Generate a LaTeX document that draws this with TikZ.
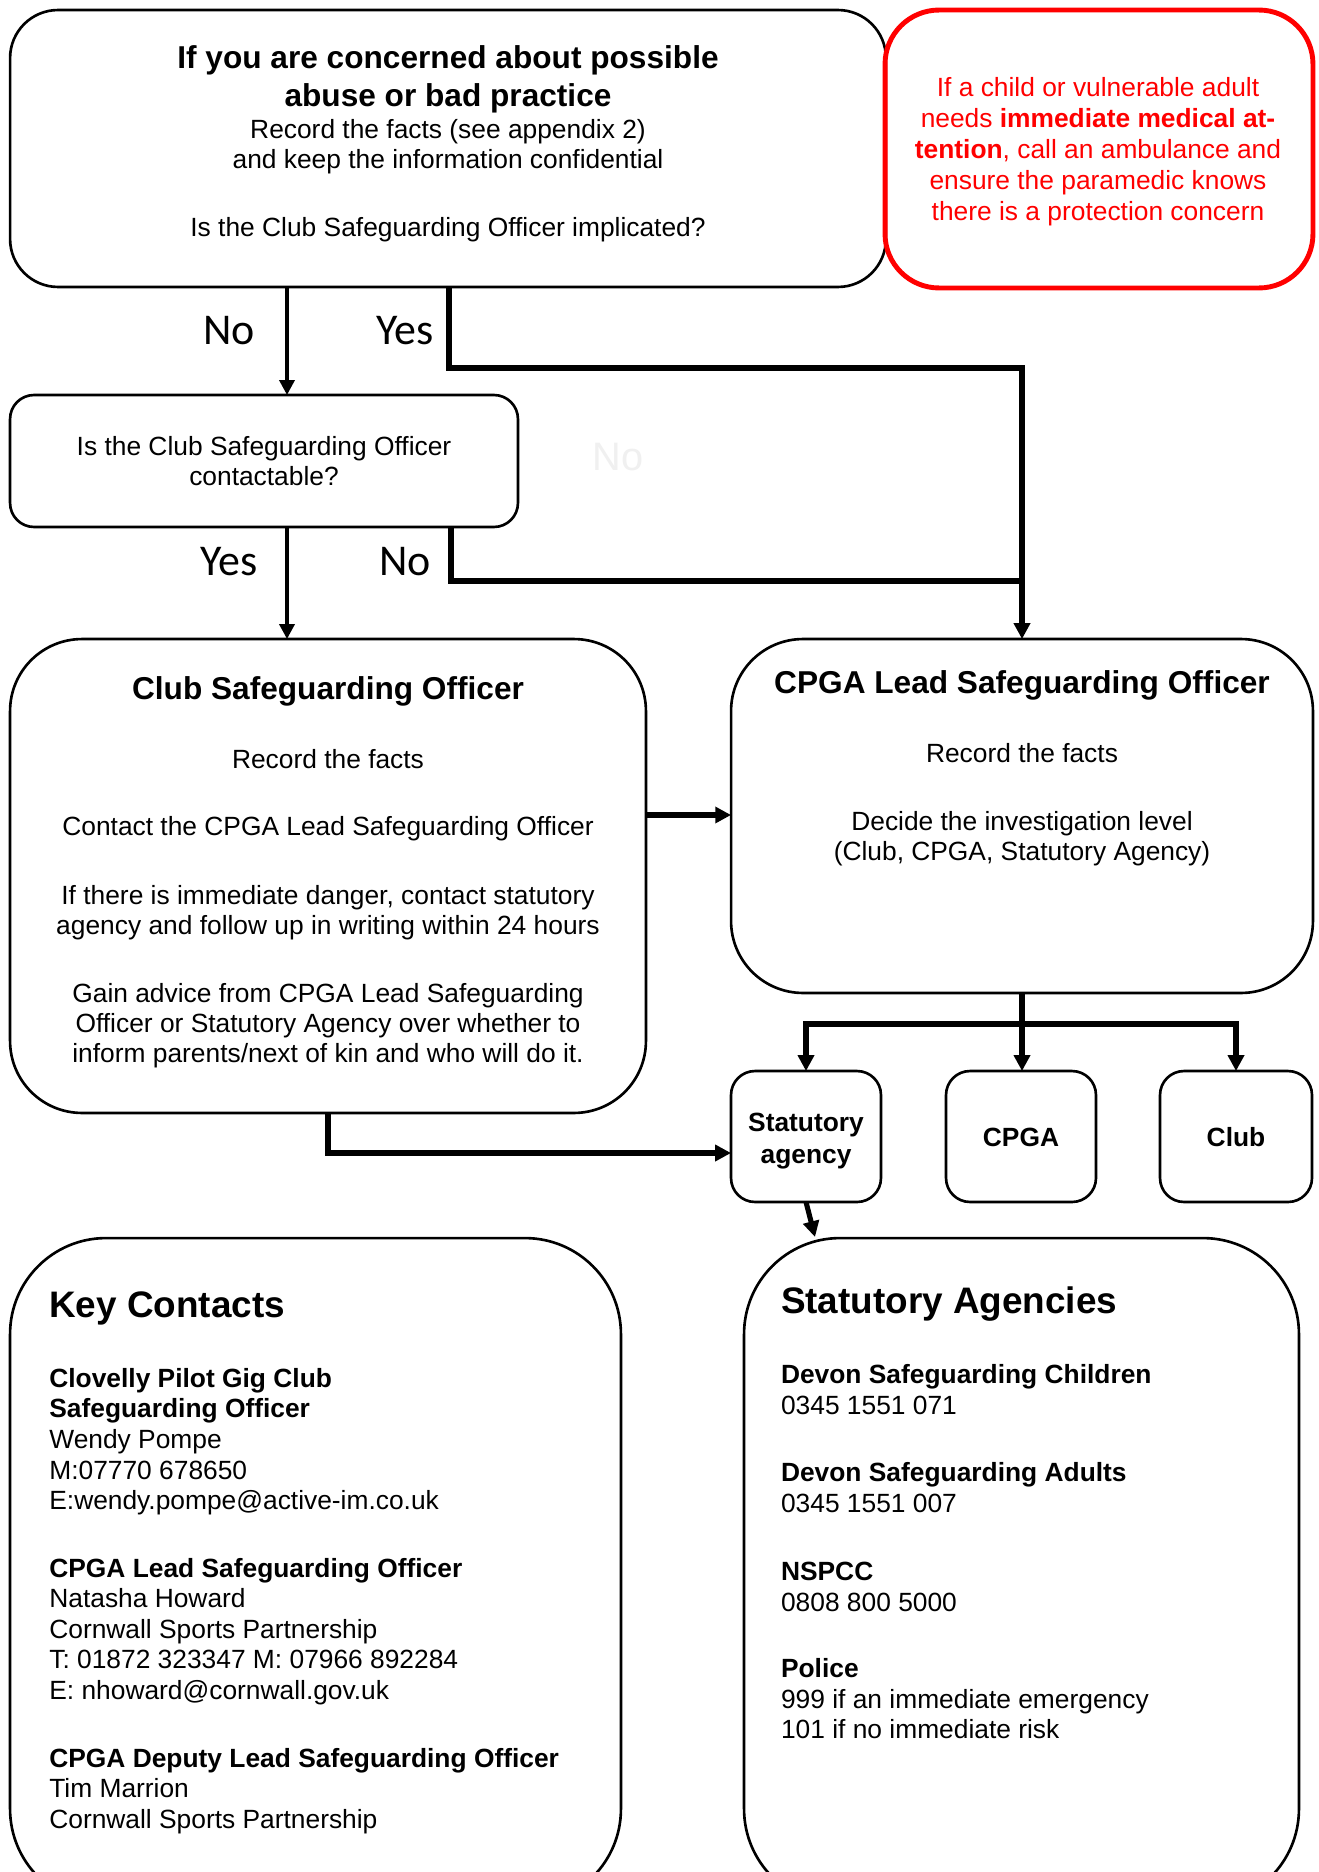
\documentclass[tikz,border=0pt]{standalone}
\usepackage{fontspec}
\setmainfont{Liberation Sans}
\newfontfamily\carl{Carlito}
\usetikzlibrary{arrows.meta,calc}
\begin{document}
\begin{tikzpicture}[x=0.02cm,y=-0.02cm,
  box/.style={draw,line width=1.5pt,rectangle,inner sep=0pt,outer sep=0pt},
  redbox/.style={draw=red,line width=2.8pt,rectangle,inner sep=0pt,outer sep=0pt},
  arr/.style={line width=2pt,-{Triangle[width=8.5pt,length=8.5pt]}},
  arrk/.style={line width=2.9pt,-{Triangle[width=9pt,length=9pt]}},
  lnk/.style={line width=2.9pt},
  txt/.style={inner sep=0pt,align=center,anchor=base,font=\fontsize{15}{17.4}\selectfont},
  ttl/.style={inner sep=0pt,align=center,anchor=base,font=\fontsize{18}{21.5}\selectfont\bfseries},
  lft/.style={inner sep=0pt,align=left,anchor=base west,font=\fontsize{15}{17.4}\selectfont},
  big/.style={inner sep=0pt,anchor=base west,font=\fontsize{21}{25}\selectfont\bfseries},
  yn/.style={inner sep=0pt,anchor=center,font=\carl\fontsize{25}{30}\selectfont}
]
\useasboundingbox (0,0) rectangle (1318,1872);
\clip (0,0) rectangle (1318,1872);
\fill[white] (0,0) rectangle (1318,1872);

% boxes
\node[box,rounded corners=0.96cm,minimum width=17.52cm,minimum height=5.54cm] (top) at (448,148.5) {};
\node[redbox,rounded corners=1.08cm,minimum width=8.56cm,minimum height=5.56cm] (redb) at (1099,149) {};
\node[box,rounded corners=0.48cm,minimum width=10.16cm,minimum height=2.64cm] (box2) at (264,461) {};
\node[box,rounded corners=1.44cm,minimum width=12.72cm,minimum height=9.48cm] (cso) at (328,876) {};
\node[box,rounded corners=1.44cm,minimum width=11.64cm,minimum height=7.08cm] (lead) at (1022,816) {};
\node[box,rounded corners=0.48cm,minimum width=3.0cm,minimum height=2.62cm] (stat) at (806,1136.5) {};
\node[box,rounded corners=0.48cm,minimum width=3.0cm,minimum height=2.62cm] (cpga) at (1021,1136.5) {};
\node[box,rounded corners=0.48cm,minimum width=3.04cm,minimum height=2.62cm] (club) at (1236,1136.5) {};
\node[box,rounded corners=1.92cm,minimum width=12.22cm,minimum height=13.34cm] (key) at (315.5,1571.5) {};
\node[box,rounded corners=1.92cm,minimum width=11.1cm,minimum height=13.34cm] (sa) at (1021.5,1571.5) {};

% helper coordinates
\coordinate (xNo) at (287,0);
\coordinate (xYes) at (449,0);
\coordinate (xNo2) at (451,0);
\coordinate (yJ1) at (0,368);
\coordinate (yJ2) at (0,581);
\coordinate (yM) at (0,815);
\coordinate (yS) at (0,1153);
\coordinate (yF) at (0,1024);
\coordinate (saIn) at (815,1237);

% connectors
\draw[arr] (xNo |- top.south) -- (xNo |- box2.north);
\draw[arrk] (xYes |- top.south) |- (yJ1 -| lead.north) -- (lead.north);
\draw[arr] (xNo |- box2.south) -- (xNo |- cso.north);
\draw[lnk] (xNo2 |- box2.south) |- (yJ2 -| lead.north);
\draw[arrk] (cso.east |- yM) -- (lead.west |- yM);
\draw[arrk] (cso.south) |- (yS -| stat.west);
\draw[arrk] (lead.south) -- (lead.south |- cpga.north);
\draw[arrk] (lead.south) |- (yF -| stat.north) -- (stat.north);
\draw[arrk] (lead.south) |- (yF -| club.north) -- (club.north);
\draw[arrk] (stat.south) -- (saIn);

% labels
\node[yn] (lNo1) at (229,331) {No};
\node[yn] (lYes1) at (405,331) {Yes};
\node[yn] (lYes2) at (229,562) {Yes};
\node[yn] (lNo2) at (405,562) {No};
\node[inner sep=0pt,text=black!6,font=\fontsize{22.6}{26}\selectfont] (faint) at (618,457) {No};

% top box text (base = baseline of last line)
\node[ttl] (t1) at (448,106.5) {If you are concerned about possible\\abuse or bad practice};
\node[txt,font=\fontsize{15}{17.6}\selectfont] (t2) at (448,169) {Record the facts (see appendix 2)\\and keep the information confidential};
\node[txt] (t3) at (448,236) {Is the Club Safeguarding Officer implicated?};

% red text
\node[txt,text=red,font=\fontsize{15}{17.6}\selectfont] (rt) at (1098,220) {If a child or vulnerable adult\\needs \textbf{immediate medical at-}\\\textbf{tention}, call an ambulance and\\ensure the paramedic knows\\there is a protection concern};

% box2 text
\node[txt,font=\fontsize{15}{17}\selectfont] (b2t) at (264,485) {Is the Club Safeguarding Officer\\contactable?};

% CSO text
\node[ttl] (c1) at (328,699.5) {Club Safeguarding Officer};
\node[txt] (c2) at (328,768) {Record the facts};
\node[txt] (c3) at (328,835) {Contact the CPGA Lead Safeguarding Officer};
\node[txt,font=\fontsize{15}{17}\selectfont] (c4) at (328,934) {If there is immediate danger, contact statutory\\agency and follow up in writing within 24 hours};
\node[txt,font=\fontsize{15}{17}\selectfont] (c5) at (328,1062) {Gain advice from CPGA Lead Safeguarding\\Officer or Statutory Agency over whether to\\inform parents/next of kin and who will do it.};

% Lead text
\node[ttl] (l1) at (1022,693.4) {CPGA Lead Safeguarding Officer};
\node[txt] (l2) at (1022,762) {Record the facts};
\node[txt,font=\fontsize{15}{17}\selectfont] (l3) at (1022,860) {Decide the investigation level\\(Club, CPGA, Statutory Agency)};

% small boxes
\node[txt,font=\fontsize{15}{18.3}\selectfont\bfseries] (s1) at (806,1163.4) {Statutory\\agency};
\node[txt,font=\fontsize{15}{18}\selectfont\bfseries] (s2) at (1021,1146.7) {CPGA};
\node[txt,font=\fontsize{15}{18}\selectfont\bfseries] (s3) at (1236,1146.7) {Club};

% key contacts
\node[big] (k0) at (49,1317) {Key Contacts};
\node[lft] (k1) at (49,1509.6) {\textbf{Clovelly Pilot Gig Club}\\\textbf{Safeguarding Officer}\\Wendy Pompe\\M:07770 678650\\E:wendy.pompe@active-im.co.uk};
\node[lft] (k2) at (49,1699.4) {\textbf{CPGA Lead Safeguarding Officer}\\Natasha Howard\\Cornwall Sports Partnership\\T: 01872 323347 M: 07966 892284\\E: nhoward@cornwall.gov.uk};
\node[lft] (k3) at (49,1828.4) {\textbf{CPGA Deputy Lead Safeguarding Officer}\\Tim Marrion\\Cornwall Sports Partnership};

% statutory agencies
\node[big] (a0) at (780.7,1313.5) {Statutory Agencies};
\node[lft] (a1) at (780.7,1414.1) {\textbf{Devon Safeguarding Children}\\0345 1551 071};
\node[lft] (a2) at (780.7,1512) {\textbf{Devon Safeguarding Adults}\\0345 1551 007};
\node[lft] (a3) at (780.7,1611) {\textbf{NSPCC}\\0808 800 5000};
\node[lft] (a4) at (780.7,1738.8) {\textbf{Police}\\999 if an immediate emergency\\101 if no immediate risk};
\end{tikzpicture}
\end{document}
